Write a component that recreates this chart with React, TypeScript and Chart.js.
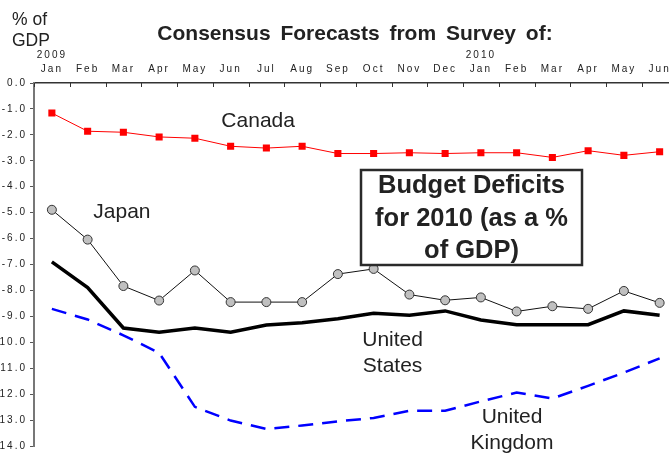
import React, { useEffect, useRef } from 'react';
import { Chart, registerables } from 'chart.js';

Chart.register(...registerables);

const months = ['Jan', 'Feb', 'Mar', 'Apr', 'May', 'Jun', 'Jul', 'Aug', 'Sep', 'Oct', 'Nov', 'Dec', 'Jan', 'Feb', 'Mar', 'Apr', 'May', 'Jun'];
const yearStarts: Record<number, string> = { 0: '2009', 12: '2010' };

const canada = [-1.16, -1.86, -1.9, -2.08, -2.13, -2.44, -2.51, -2.44, -2.72, -2.72, -2.69, -2.72, -2.69, -2.69, -2.87, -2.61, -2.79, -2.65];
const japan = [-4.89, -6.04, -7.83, -8.39, -7.23, -8.45, -8.45, -8.45, -7.37, -7.17, -8.16, -8.38, -8.27, -8.81, -8.61, -8.71, -8.02, -8.48];
const unitedStates = [-6.9, -7.89, -9.45, -9.61, -9.45, -9.61, -9.33, -9.25, -9.09, -8.88, -8.96, -8.79, -9.14, -9.32, -9.32, -9.32, -8.79, -8.96];
const unitedKingdom = [-8.71, -9.12, -9.73, -10.41, -12.49, -13.02, -13.34, -13.21, -13.05, -12.92, -12.64, -12.64, -12.28, -11.94, -12.17, -11.68, -11.17, -10.62];

const yMin = -14;
const yMax = 0;

const titleText = 'Consensus Forecasts from Survey of:';
const unitLines = ['% of', 'GDP'];
const boxLines = ['Budget Deficits', 'for 2010 (as a %', 'of GDP)'];
// series labels placed in data space: [x index, y value]
const seriesLabels = [
  { lines: ['Canada'], x: 5.77, y: -1.49 },
  { lines: ['Japan'], x: 1.96, y: -5.0 },
  { lines: ['United', 'States'], x: 9.53, y: -9.91 },
  { lines: ['United', 'Kingdom'], x: 12.87, y: -12.89 },
];

const FONT = "'Liberation Sans', Arial, Helvetica, sans-serif";
const TEXT = '#222';
const OFFSET_X = 10; // canvas shifted left so page x = canvas x - OFFSET_X

export default function App() {
  const ref = useRef<HTMLCanvasElement | null>(null);

  useEffect(() => {
    const canvas = ref.current;
    if (!canvas) return;

    const spacingPlugin = {
      id: 'spacing',
      beforeDraw(chart: any) {
        chart.ctx.letterSpacing = '2px';
      },
      afterDraw(chart: any) {
        chart.ctx.letterSpacing = '0px';
      },
    };

    const decorPlugin = {
      id: 'decor',
      afterDraw(chart: any) {
        const ctx = chart.ctx as CanvasRenderingContext2D;
        const xs = chart.scales.x;
        const ys = chart.scales.y;
        const area = chart.chartArea;
        ctx.save();
        (ctx as any).letterSpacing = '0px';
        // top axis tick marks (pointing down into the plot)
        ctx.strokeStyle = '#333';
        ctx.lineWidth = 1;
        for (let i = 0; i <= months.length; i++) {
          const px = Math.round(xs.getPixelForValue(i - 0.5)) + 0.5;
          ctx.beginPath();
          ctx.moveTo(px, area.top);
          ctx.lineTo(px, area.top + 4);
          ctx.stroke();
        }
        // Title
        ctx.fillStyle = TEXT;
        ctx.textAlign = 'center';
        ctx.textBaseline = 'middle';
        ctx.font = `bold 21px ${FONT}`;
        (ctx as any).wordSpacing = '4px';
        ctx.fillText(titleText, 355 + OFFSET_X, 34);
        (ctx as any).wordSpacing = '0px';
        // unit label
        ctx.textAlign = 'left';
        ctx.font = `17.5px ${FONT}`;
        ctx.fillText(unitLines[0], 12 + OFFSET_X, 20);
        ctx.fillText(unitLines[1], 12 + OFFSET_X, 41);
        // series labels
        ctx.textAlign = 'center';
        ctx.font = `21px ${FONT}`;
        for (const s of seriesLabels) {
          const px = xs.getPixelForValue(s.x);
          const py = ys.getPixelForValue(s.y);
          s.lines.forEach((line, k) => ctx.fillText(line, px, py + k * 26));
        }
        // boxed note
        const bx = 361 + OFFSET_X;
        const by = 170;
        const bw = 221;
        const bh = 95;
        ctx.fillStyle = '#fff';
        ctx.fillRect(bx, by, bw, bh);
        ctx.strokeStyle = '#2a2a2a';
        ctx.lineWidth = 2.5;
        ctx.strokeRect(bx, by, bw, bh);
        ctx.fillStyle = TEXT;
        ctx.font = `bold 25.5px ${FONT}`;
        boxLines.forEach((line, k) => ctx.fillText(line, bx + bw / 2, by + 16 + k * 32.5));
        ctx.restore();
      },
    };

    const chart = new Chart(canvas, {
      type: 'line',
      data: {
        labels: months.map((m, i) => (yearStarts[i] ? [yearStarts[i], m] : m)),
        datasets: [
          {
            label: 'Canada',
            data: canada,
            borderColor: '#ff0000',
            backgroundColor: '#ff0000',
            borderWidth: 1,
            pointStyle: 'rect',
            pointRadius: 5,
            pointBorderWidth: 0,
            tension: 0,
          },
          {
            label: 'Japan',
            data: japan,
            borderColor: '#111',
            backgroundColor: '#c0c0c0',
            pointBorderColor: '#333',
            borderWidth: 1,
            pointStyle: 'circle',
            pointRadius: 4.5,
            pointBorderWidth: 1,
            tension: 0,
          },
          {
            label: 'United States',
            data: unitedStates,
            borderColor: '#000',
            borderWidth: 3.5,
            pointRadius: 0,
            tension: 0,
          },
          {
            label: 'United Kingdom',
            data: unitedKingdom,
            borderColor: '#0000ff',
            borderWidth: 2.5,
            borderDash: [15, 9],
            pointRadius: 0,
            tension: 0,
          },
        ],
      },
      options: {
        animation: false,
        responsive: false,
        devicePixelRatio: 1,
        layout: { padding: { top: 43, left: 0, right: 12.5, bottom: 6 } },
        plugins: { legend: { display: false }, tooltip: { enabled: false } },
        scales: {
          x: {
            type: 'category',
            position: 'top',
            offset: true,
            grid: { display: false, drawTicks: false, offset: true },
            border: { display: true, color: '#333', width: 1.5 },
            ticks: {
              autoSkip: false,
              maxRotation: 0,
              minRotation: 0,
              padding: 7,
              color: TEXT,
              font: { family: FONT, size: 10, lineHeight: 1.4 },
            },
            afterFit(scale: any) {
              scale.height = 40;
            },
          },
          y: {
            type: 'linear',
            min: yMin,
            max: yMax,
            grid: { drawOnChartArea: false, drawTicks: true, tickLength: 4, color: '#555' },
            border: { display: true, color: '#777', width: 2 },
            ticks: {
              stepSize: 1,
              padding: 3,
              color: TEXT,
              font: { family: FONT, size: 10 },
              callback: (v: any) => Number(v).toFixed(1),
            },
            afterFit(scale: any) {
              scale.width = 44;
            },
          },
        },
      },
      plugins: [spacingPlugin, decorPlugin],
    } as any);

    return () => chart.destroy();
  }, []);

  return (
    <div style={{ position: 'absolute', left: 0, top: 0, width: 669, height: 455, overflow: 'hidden', background: '#fff' }}>
      <canvas ref={ref} width={700} height={455} style={{ position: 'absolute', left: -OFFSET_X, top: 0 }} />
    </div>
  );
}
